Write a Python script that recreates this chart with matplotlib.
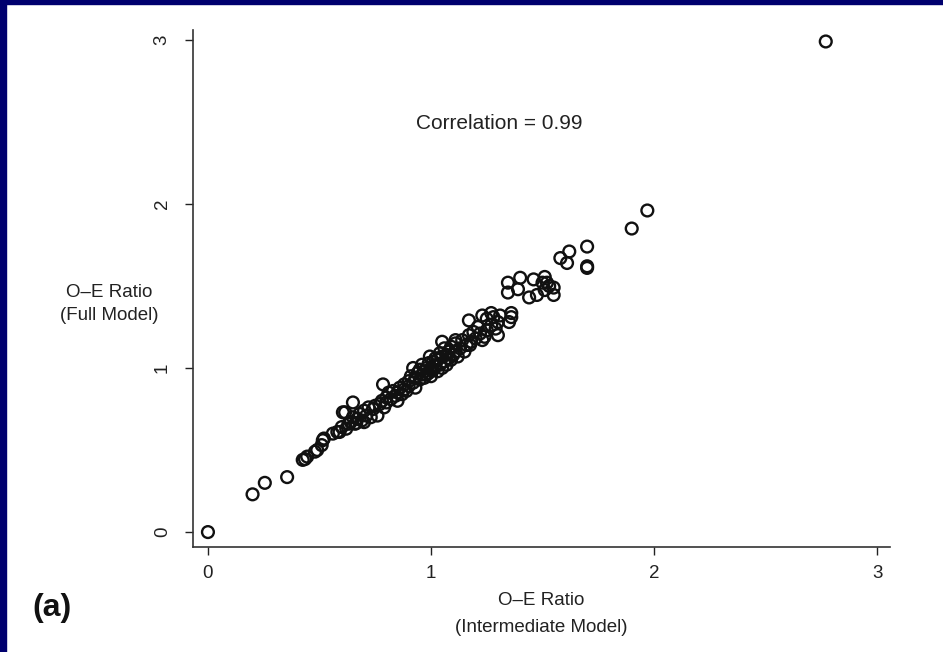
import matplotlib
matplotlib.use("Agg")
import matplotlib.pyplot as plt
from matplotlib.patches import Rectangle

plt.rcParams['font.family'] = ['Liberation Sans', 'DejaVu Sans']

# O-E ratio, intermediate model (x) vs full model (y)
oe_intermediate = [
    0.00, 0.20, 0.255, 0.355, 0.425, 0.435, 0.445, 0.48, 0.49, 0.51, 0.515, 0.52,
    0.56, 0.58, 0.59, 0.60, 0.605, 0.615, 0.62, 0.63, 0.64, 0.65, 0.65, 0.66,
    0.665, 0.67, 0.68, 0.69, 0.70, 0.70, 0.71, 0.72, 0.73, 0.74, 0.75, 0.76,
    0.77, 0.785, 0.78, 0.79, 0.80, 0.80, 0.81, 0.82, 0.83, 0.84, 0.85, 0.85,
    0.86, 0.87, 0.88, 0.88, 0.89, 0.90, 0.90, 0.91, 0.92, 0.92, 0.93, 0.93,
    0.94, 0.95, 0.95, 0.96, 0.96, 0.97, 0.97, 0.98, 0.98, 0.99, 0.99, 0.995,
    1.00, 1.00, 1.01, 1.01, 1.02, 1.02, 1.03, 1.03, 1.04, 1.04, 1.05, 1.05,
    1.05, 1.06, 1.06, 1.07, 1.07, 1.08, 1.08, 1.09, 1.09, 1.10, 1.11, 1.11,
    1.11, 1.12, 1.13, 1.14, 1.15, 1.16, 1.17, 1.175, 1.17, 1.18, 1.19, 1.20,
    1.21, 1.22, 1.23, 1.23, 1.24, 1.25, 1.25, 1.27, 1.27, 1.28, 1.29, 1.30,
    1.30, 1.31, 1.35, 1.36, 1.36, 1.345, 1.40, 1.345, 1.39, 1.46, 1.51, 1.55,
    1.52, 1.44, 1.475, 1.51, 1.55, 1.50, 1.53, 1.58, 1.62, 1.70, 1.70, 1.70,
    1.61, 1.90, 1.97, 2.77,
]
oe_full = [
    0.00, 0.23, 0.30, 0.335, 0.44, 0.445, 0.46, 0.49, 0.50, 0.53, 0.56, 0.57,
    0.60, 0.61, 0.61, 0.64, 0.73, 0.73, 0.63, 0.66, 0.67, 0.79, 0.70, 0.66,
    0.665, 0.69, 0.72, 0.68, 0.67, 0.74, 0.71, 0.76, 0.70, 0.75, 0.77, 0.71,
    0.78, 0.90, 0.80, 0.76, 0.82, 0.79, 0.85, 0.81, 0.86, 0.83, 0.85, 0.80,
    0.88, 0.84, 0.90, 0.87, 0.86, 0.92, 0.89, 0.95, 1.00, 0.91, 0.88, 0.94,
    0.97, 0.93, 0.99, 0.96, 1.02, 0.94, 0.98, 1.00, 0.96, 1.03, 0.97, 1.07,
    1.00, 0.95, 1.04, 0.99, 1.01, 1.06, 0.98, 1.05, 1.02, 1.09, 1.07, 1.00,
    1.16, 1.04, 1.12, 1.08, 1.02, 1.10, 1.06, 1.13, 1.05, 1.08, 1.15, 1.10,
    1.17, 1.07, 1.12, 1.17, 1.10, 1.14, 1.29, 1.14, 1.20, 1.16, 1.22, 1.18,
    1.25, 1.21, 1.32, 1.17, 1.19, 1.30, 1.23, 1.335, 1.26, 1.31, 1.24, 1.28,
    1.20, 1.32, 1.28, 1.335, 1.31, 1.52, 1.55, 1.46, 1.48, 1.54, 1.555, 1.49,
    1.52, 1.43, 1.445, 1.475, 1.445, 1.52, 1.50, 1.67, 1.71, 1.74, 1.62, 1.61,
    1.64, 1.85, 1.96, 2.99,
]

fig = plt.figure(figsize=(9.43, 6.52), dpi=100)
fig.patch.set_facecolor('white')
navy = '#00006e'
fig.patches.append(Rectangle((0, 0), 6 / 943, 1, transform=fig.transFigure,
                             color=navy, zorder=0))
fig.patches.append(Rectangle((0, 1 - 4 / 652), 1, 4 / 652, transform=fig.transFigure,
                             color=navy, zorder=0))

ax = fig.add_axes([193 / 943, 1 - 547 / 652, 697 / 943, 517 / 652])
ax.scatter(oe_intermediate, oe_full, s=72, facecolors='none',
           edgecolors='#111111', linewidths=1.7)

ax.set_xlim(-0.067, 3.058)
ax.set_ylim(-0.091, 3.06)
ax.set_xticks([0, 1, 2, 3])
ax.set_yticks([0, 1, 2, 3])
ax.tick_params(axis='both', direction='out', length=6, width=1, labelsize=13.5,
               colors='#222222', pad=7)
ax.tick_params(axis='y', pad=10)
for lab in ax.get_yticklabels():
    lab.set_rotation(90)
    lab.set_va('center')
ax.spines['top'].set_visible(False)
ax.spines['right'].set_visible(False)
ax.spines['left'].set_color('#333333')
ax.spines['bottom'].set_color('#333333')
ax.spines['left'].set_linewidth(1.2)
ax.spines['bottom'].set_linewidth(1.2)

ax.set_xlabel('O–E Ratio\n(Intermediate Model)', fontsize=13.5, color='#222222',
              linespacing=1.75, labelpad=7)
ax.set_ylabel('O–E Ratio\n(Full Model)', fontsize=13.5, color='#222222',
              rotation=0, linespacing=1.5, ha='center', va='center')
ax.yaxis.set_label_coords(-0.12, 0.47)

ax.text(1.305, 2.49, 'Correlation = 0.99', fontsize=15, color='#222222',
        ha='center', va='center')
fig.text(52 / 943, 1 - 608 / 652, '(a)', fontsize=23, fontweight='bold',
         ha='center', va='center', color='#111111')

fig.savefig('out.png', dpi=100)
